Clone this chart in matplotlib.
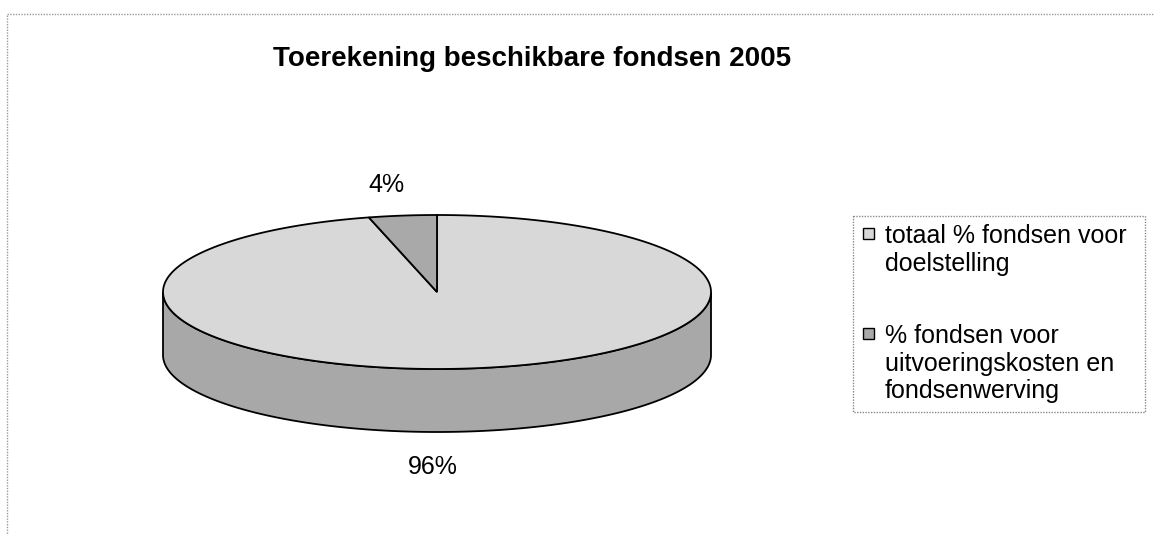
import numpy as np
import matplotlib
matplotlib.use("Agg")
import matplotlib.pyplot as plt
from matplotlib.patches import Polygon, Rectangle

plt.rcParams['font.family'] = ['Liberation Sans', 'DejaVu Sans']

title = "Toerekening beschikbare fondsen 2005"
labels = ["totaal % fondsen voor\ndoelstelling",
          "% fondsen voor\nuitvoeringskosten en\nfondsenwerving"]
values = [96, 4]
top_colors = ["#d8d8d8", "#a9a9a9"]
side_colors = ["#a8a8a8", "#8c8c8c"]

W, H = 1154, 535
fig = plt.figure(figsize=(W / 100, H / 100), dpi=100)
ax = fig.add_axes([0, 0, 1, 1])
ax.set_xlim(0, W)
ax.set_ylim(H, 0)
ax.axis("off")

# chart area border (runs off the right and bottom of the scan)
ax.add_patch(Rectangle((7, 14), W + 20, H + 20, fill=False, ec="#9a9a9a",
                       lw=1.0, ls=(0, (1, 1))))

# pie geometry in pixel coordinates
cx, cy, a, b, depth = 437, 292, 274, 77, 63

def ell(t, dy=0):
    return cx + a * np.cos(t), cy - b * np.sin(t) + dy

fr = np.array(values) / sum(values)
# small slice goes counter-clockwise from 12 o'clock, the big one takes the rest
starts = [90 + 360 * fr[1], 90]
ends = [90 + 360, 90 + 360 * fr[1]]

# side wall: front half (180..360 deg)
for i in range(len(values)):
    s, e = max(starts[i], 180), min(ends[i], 360)
    if e <= s:
        continue
    t = np.radians(np.linspace(s, e, 200))
    xs, ys = ell(t)
    xb, yb = ell(t[::-1], depth)
    pts = np.column_stack([np.r_[xs, xb], np.r_[ys, yb]])
    ax.add_patch(Polygon(pts, closed=True, fc=side_colors[i], ec="black", lw=1.3))

# top face
for i in range(len(values)):
    t = np.radians(np.linspace(starts[i], ends[i], 400))
    xs, ys = ell(t)
    pts = np.column_stack([np.r_[cx, xs], np.r_[cy, ys]])
    ax.add_patch(Polygon(pts, closed=True, fc=top_colors[i], ec="black", lw=1.3,
                         joinstyle="miter"))

# data labels
ax.text(386, 185, f"{values[1]}%", ha="center", va="center", fontsize=18)
ax.text(433, 467, f"{values[0]}%", ha="center", va="center", fontsize=18)

ax.text(532, 59, title, ha="center", va="center", fontsize=20, fontweight="bold")

# legend, drawn by hand so the key squares sit on the first text line
ax.add_patch(Rectangle((853, 216), 292, 196, fill=False, ec="#8a8a8a",
                       lw=1.0, ls=(0, (1, 1))))
line_h = 27.5
y = 243
for i, lab in enumerate(labels):
    ax.add_patch(Rectangle((863, y - 15), 11, 11, fc=top_colors[i], ec="black", lw=1.0))
    for line in lab.split("\n"):
        ax.text(885, y, line, ha="left", va="baseline", fontsize=18)
        y += line_h
    y += 45

fig.savefig("out.png", dpi=100)
